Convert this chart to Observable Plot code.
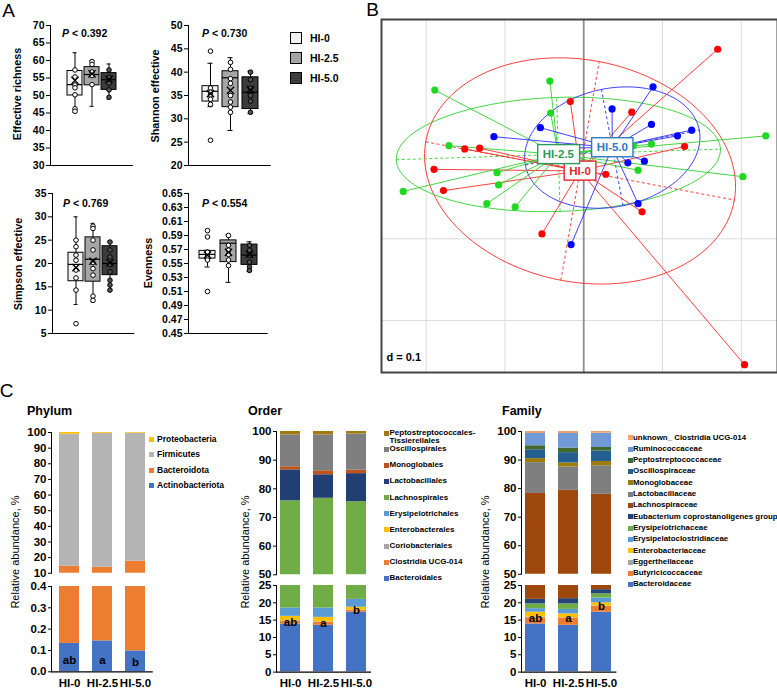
<!DOCTYPE html>
<html><head><meta charset="utf-8">
<script src="https://cdn.jsdelivr.net/npm/d3@7"></script>
<script src="https://cdn.jsdelivr.net/npm/@observablehq/plot@0.6"></script>
<style>
body{margin:0;background:#fff;}
#fig{position:relative;width:777px;height:689px;overflow:hidden;font-family:"Liberation Sans",Arial,sans-serif;color:#000;background:#fff;}
.abs{position:absolute;white-space:nowrap;}
</style></head><body><div id="fig"></div>
<script>
// ================= DATA =================
const groups = ["HI-0", "HI-2.5", "HI-5.0"];

// Panel A box plots: per group [min, q1, median, q3, max, mean]
const richnessBox = [[45.2, 50.0, 53.1, 57.0, 62.2, 54.3], [46.9, 52.9, 56.0, 58.1, 60.0, 56.2], [49.0, 51.6, 54.5, 56.4, 59.0, 54.6]];
const richnessPts = [[57.3, 55.3, 53.0, 52.2, 50.2, 46.2, 45.5], [59.7, 58.9, 56.7, 55.7, 53.1], [57.3, 55.2, 53.5, 51.6, 49.5]];
const richnessOut = [[], [], []];
const shannonBox = [[32.6, 33.7, 35.9, 37.0, 41.9, 35.4], [27.5, 32.5, 38.8, 40.2, 43.1, 36.1], [31.1, 32.1, 35.7, 38.9, 40.2, 36.2]];
const shannonPts = [[36.6, 35.7, 35.1, 34.2, 33.1], [42.1, 40.6, 38.6, 37.6, 35.0, 33.6, 32.5, 31.4], [40.0, 38.4, 36.6, 35.0, 33.8, 31.4]];
const shannonOut = [[44.5, 25.4], [], []];
const simpsonBox = [[11.2, 16.2, 19.8, 22.3, 30.0, 19.1], [11.8, 16.1, 20.9, 25.6, 28.6, 20.5], [14.1, 17.5, 20.0, 23.7, 24.8, 20.2]];
const simpsonPts = [[25.0, 23.6, 21.8, 20.7, 18.6, 16.9, 14.3], [28.0, 27.5, 25.0, 22.9, 20.2, 18.9, 17.5, 13.0, 12.1], [24.6, 22.9, 21.4, 19.8, 18.2, 16.4, 15.4, 14.3]];
const simpsonOut = [[7.1], [], []];
const evenBox = [[0.545, 0.557, 0.563, 0.568, 0.569, 0.562], [0.523, 0.552, 0.579, 0.583, 0.591, 0.566], [0.539, 0.548, 0.562, 0.577, 0.581, 0.563]];
const evenPts = [[0.566, 0.560, 0.555], [0.590, 0.576, 0.569, 0.563, 0.555, 0.547], [0.576, 0.569, 0.562, 0.552, 0.545, 0.540]];
const evenOut = [[0.597, 0.588, 0.510], [], []];
const pValues = ["0.392", "0.730", "0.769", "0.554"];
const alphaTitles = ["Effective richness", "Shannon effective", "Simpson effective", "Evenness"];

// Panel B PCoA sample coordinates
const hi0X = [0.170, -0.017, 0.061, -0.151, -0.132, -0.190, -0.178, 0.128, 0.028, 0.074, -0.053, 0.204];
const hi0Y = [0.132, 0.068, 0.055, 0.010, 0.011, -0.015, -0.041, 0.013, -0.021, -0.067, -0.094, -0.254];
const hi25X = [-0.043, -0.189, -0.042, -0.171, -0.110, -0.108, -0.229, -0.123, -0.087, 0.231, 0.202, 0.069, 0.063, 0.086];
const hi25Y = [0.093, 0.082, 0.054, 0.014, -0.019, -0.034, -0.042, -0.057, -0.061, 0.026, -0.024, -0.016, 0.014, 0.016];
const hi50X = [0.088, 0.036, -0.055, -0.114, 0.086, 0.137, 0.119, 0.056, 0.077, 0.069, -0.016, -0.048];
const hi50Y = [0.086, 0.059, 0.036, 0.025, 0.040, 0.033, 0.026, -0.007, -0.005, -0.057, -0.107, 0.011];
const gridX = [-0.2, -0.1, 0.1, 0.2];
const gridY = [-0.1, -0.2];
const gridD = "0.1";
const pcoaXDomain = [-0.2566, 0.2459];
const pcoaYDomain = [-0.2636, 0.1684];

// Panel C stacked bars (bottom -> top)
const phylumTaxa = ["Actinobacteriota", "Bacteroidota", "Firmicutes", "Proteobacteria"];
const phylumValues = [[0.133, 0.145, 0.098], [14.37, 13.66, 17.60], [84.4, 85.7, 81.9], [1.1, 0.5, 0.4]];
const phylumLetters = ["ab", "a", "b"];
const phylumLetterY = [0.055, 0.055, 0.045];

const orderTaxa = ["Bacteroidales", "Clostridia UCG-014", "Coriobacteriales", "Enterobacterales", "Erysipelotrichales", "Lachnospirales", "Lactobacillales", "Monoglobales", "Oscillospirales", "Peptostreptococcales-Tissierellales"];
const orderValues = [[13.9, 13.5, 17.3], [0.7, 0.9, 0.5], [0.2, 0.1, 0.1], [1.3, 1.3, 0.85], [2.4, 2.7, 2.25], [57.3, 58.2, 54.5], [10.8, 8.2, 9.8], [1.1, 1.4, 1.2], [11.1, 12.5, 12.6], [1.2, 1.2, 0.9]];
const orderLetters = ["ab", "a", "b"];
const orderLetterY = [14.4, 14.2, 17.9];

const familyTaxa = ["Bacteroidaceae", "Butyricicoccaceae", "Eggerthellaceae", "Enterobacteriaceae", "Erysipelatoclostridiaceae", "Erysipelotrichaceae", "Eubacterium coprostanoligenes group", "Lachnospiraceae", "Lactobacillaceae", "Monoglobaceae", "Oscillospiraceae", "Peptostreptococcaceae", "Ruminococcaceae", "unknown_ Clostridia UCG-014"];
const familyValues = [[13.9, 13.5, 17.3], [1.8, 2.1, 1.7], [0.2, 0.1, 0.1], [1.4, 1.1, 0.9], [1.0, 1.3, 1.4], [1.4, 1.6, 1.2], [1.3, 1.5, 1.2], [57.3, 58.2, 54.2], [10.8, 8.2, 10.0], [1.4, 1.4, 1.5], [3.1, 3.6, 3.7], [1.4, 1.6, 1.2], [4.3, 5.1, 5.0], [0.7, 0.7, 0.6]];
const familyLetters = ["ab", "a", "b"];
const familyLetterY = [15.6, 15.4, 19.0];

// ================= STYLES =================
const boxFill = ["#f2f2f2", "#a6a6a6", "#3c3c3c"];
const dotFill = ["#ffffff", "#ffffff", "#555555"];
const ptColor = ["#ff0000", "#1fd81f", "#0000ff"];
const lnColor = ["#ff2a2a", "#2fd02f", "#2a2aff"];
const labColor = ["#e3262d", "#2a9a5c", "#2c7cbf"];
const phylumColors = ["#4472c4", "#ed7d31", "#b4b4b4", "#ffc000"];
const orderColors = ["#4472c4", "#ed7d31", "#a5a5a5", "#ffc000", "#5b9bd5", "#70ad47", "#223f73", "#bf521a", "#7f7f7f", "#a07c10"];
const familyColors = ["#4472c4", "#ed7d31", "#a5a5a5", "#ffc000", "#5b9bd5", "#70ad47", "#264478", "#9e480e", "#7f7f7f", "#9e7c0c", "#255e91", "#43682b", "#6f9ad6", "#f4a26b"];

const fig = document.getElementById("fig");
const FONT = '"Liberation Sans", Arial, sans-serif';
const style = fs => ({fontFamily: FONT, fontSize: fs + "px", fontWeight: "bold", background: "transparent", overflow: "visible", maxWidth: "none", color: "#000"});

function place(node, left, top) {
  const d = document.createElement("div");
  d.className = "abs";
  d.style.left = left + "px"; d.style.top = top + "px";
  d.append(node); fig.append(d); return d;
}
function label(html, x, y, o = {}) {
  const d = document.createElement("div");
  d.className = "abs";
  d.innerHTML = html;
  const s = d.style;
  s.left = x + "px"; s.top = y + "px";
  s.fontSize = (o.size || 11) + "px";
  s.fontWeight = o.bold ? "bold" : "normal";
  s.lineHeight = o.lh || "1";
  if (o.ls) s.letterSpacing = o.ls;
  const ax = o.anchor === "middle" ? "-50%" : o.anchor === "end" ? "-100%" : "0";
  s.transform = o.rotate ? "translate(-50%,-50%) rotate(-90deg)" : (o.top ? "none" : `translate(${ax},-50%)`);
  if (o.color) s.color = o.color;
  fig.append(d); return d;
}
function mountPlot(opts, a, m) {
  const svg = Plot.plot({...opts,
    width: m.l + (a.x1 - a.x0) + m.r, height: m.t + (a.y1 - a.y0) + m.b,
    marginLeft: m.l, marginRight: m.r, marginTop: m.t, marginBottom: m.b});
  place(svg, a.x0 - m.l, a.y0 - m.t);
  return svg;
}

// ================= PANEL A =================
function boxChart(box, pts, outl, area, o) {
  const stats = groups.map((g, i) => ({group: g, min: box[i][0], q1: box[i][1], med: box[i][2], q3: box[i][3], max: box[i][4], mean: box[i][5]}));
  const dots = groups.flatMap((g, i) => [...pts[i], ...outl[i]].map(v => ({group: g, v})));
  const gi = g => groups.indexOf(g);
  mountPlot({
    style: style(10.5),
    x: {type: "band", domain: groups, axis: null, paddingInner: o.pi, paddingOuter: o.po},
    y: {domain: o.domain, ticks: o.ticks, tickFormat: o.fmt, tickSize: 4, tickPadding: 2, line: true, label: null},
    marks: [
      Plot.ruleY([o.domain[0]], {strokeWidth: 1.2}),
      Plot.ruleX(stats, {x: "group", y1: "min", y2: "max", strokeWidth: 1}),
      Plot.tickY(stats, {x: "group", y: "min", insetLeft: 5.5, insetRight: 5.5}),
      Plot.tickY(stats, {x: "group", y: "max", insetLeft: 5.5, insetRight: 5.5}),
      Plot.barY(stats, {x: "group", y1: "q1", y2: "q3", fill: d => boxFill[gi(d.group)], stroke: "#000", strokeWidth: 1}),
      Plot.tickY(stats, {x: "group", y: "med", stroke: "#000", strokeWidth: 1.2}),
      Plot.dot(dots, {x: "group", y: "v", r: 2.3, fill: d => dotFill[gi(d.group)], stroke: "#000", strokeWidth: 1}),
      Plot.dot(stats, {x: "group", y: "mean", symbol: "times", r: 3.4, stroke: "#000", strokeWidth: 1.3})
    ]
  }, area, {l: 40, r: 4, t: 8, b: 4});
}
const tk = (a, b, s) => d3.range(a, b + s / 2, s);
boxChart(richnessBox, richnessPts, richnessOut, {x0: 50, x1: 133, y0: 25, y1: 165},
  {domain: [30, 70], ticks: tk(30, 70, 5), fmt: d3.format("d"), pi: 0.09, po: 0.95});
boxChart(shannonBox, shannonPts, shannonOut, {x0: 188.3, x1: 271, y0: 25, y1: 165},
  {domain: [20, 50], ticks: tk(20, 50, 5), fmt: d3.format("d"), pi: 0.22, po: 0.58});
boxChart(simpsonBox, simpsonPts, simpsonOut, {x0: 51.7, x1: 134, y0: 193.3, y1: 333.3},
  {domain: [5, 35], ticks: tk(5, 35, 5), fmt: d3.format("d"), pi: 0.09, po: 0.95});
boxChart(evenBox, evenPts, evenOut, {x0: 188.3, x1: 268, y0: 193.3, y1: 333.3},
  {domain: [0.45, 0.65], ticks: tk(0.45, 0.65, 0.02), fmt: d3.format(".2f"), pi: 0.22, po: 0.5});

const pPos = [[62, 33], [202, 33], [63, 203], [202, 203]];
pValues.forEach((p, i) => label(`<i>P</i> &lt; ${p}`, pPos[i][0], pPos[i][1], {size: 10.5, bold: true}));
const yTitlePos = [[17, 94], [155, 96], [17.5, 264], [148, 263]];
alphaTitles.forEach((t, i) => label(t, yTitlePos[i][0], yTitlePos[i][1], {size: 10.8, bold: true, rotate: true}));
groups.forEach((g, i) => {
  const sq = document.createElement("div");
  sq.className = "abs";
  Object.assign(sq.style, {left: "290px", top: (32 + 20 * i) + "px", width: "12px", height: "12px", boxSizing: "border-box", border: "1px solid #000", background: boxFill[i]});
  fig.append(sq);
  label(g, 310, 38 + 20 * i, {size: 10.5, bold: true});
});

// ================= PANEL B =================
const sets = [[hi0X, hi0Y], [hi25X, hi25Y], [hi50X, hi50Y]];
const pts = sets.flatMap(([xs, ys], k) => xs.map((x, i) => ({k, x, y: ys[i]})));
const cent = sets.map(([xs, ys], k) => {
  const mx = d3.mean(xs), my = d3.mean(ys);
  const vx = d3.mean(xs, x => (x - mx) ** 2), vy = d3.mean(ys, y => (y - my) ** 2);
  const cxy = d3.mean(xs.map((x, i) => (x - mx) * (ys[i] - my)));
  const th = 0.5 * Math.atan2(2 * cxy, vx - vy);
  const tr = vx + vy, det = vx * vy - cxy * cxy, disc = Math.sqrt(Math.max(0, tr * tr / 4 - det));
  return {k, x: mx, y: my, th, a: 1.5 * Math.sqrt(tr / 2 + disc), b: 1.5 * Math.sqrt(Math.max(0, tr / 2 - disc))};
});
const ell = cent.flatMap(c => d3.range(0, 121).map(j => {
  const t = 2 * Math.PI * j / 120;
  return {k: c.k,
    x: c.x + c.a * Math.cos(t) * Math.cos(c.th) - c.b * Math.sin(t) * Math.sin(c.th),
    y: c.y + c.a * Math.cos(t) * Math.sin(c.th) + c.b * Math.sin(t) * Math.cos(c.th)};
}));
const ellAxes = cent.flatMap(c => [[c.a, 0], [0, c.b]].map(([u, v]) => {
  const dx = u * Math.cos(c.th) - v * Math.sin(c.th), dy = u * Math.sin(c.th) + v * Math.cos(c.th);
  return {k: c.k, x1: c.x - dx, y1: c.y - dy, x2: c.x + dx, y2: c.y + dy};
}));
const bSvg = mountPlot({
  style: style(11),
  x: {domain: pcoaXDomain, axis: null},
  y: {domain: pcoaYDomain, axis: null},
  marks: [
    Plot.ruleX(gridX, {stroke: "#dcdcdc", strokeWidth: 1}),
    Plot.ruleY(gridY, {stroke: "#dcdcdc", strokeWidth: 1}),
    Plot.ruleX([0], {stroke: "#8f8f8f", strokeWidth: 1.8}),
    Plot.line(ell, {x: "x", y: "y", z: "k", stroke: d => lnColor[d.k], strokeWidth: 0.9}),
    Plot.link(ellAxes, {x1: "x1", y1: "y1", x2: "x2", y2: "y2", stroke: d => lnColor[d.k], strokeWidth: 0.9, strokeDasharray: "3,2.5"}),
    Plot.link(pts, {x1: d => cent[d.k].x, y1: d => cent[d.k].y, x2: "x", y2: "y", stroke: d => lnColor[d.k], strokeWidth: 0.9}),
    Plot.dot(pts, {x: "x", y: "y", r: 3.6, fill: d => ptColor[d.k]}),
    Plot.text([gridD], {frameAnchor: "bottom-left", dx: 5, dy: -12, text: d => "d = " + d, fontSize: 11, fontWeight: "bold", textAnchor: "start"}),
    Plot.text(cent, {x: "x", y: "y", text: d => groups[d.k], fill: d => labColor[d.k], fontSize: 11.5, fontWeight: "bold"}),
    Plot.frame({stroke: "#444", strokeWidth: 2})
  ]
}, {x0: 381, x1: 777, y0: 19, y1: 372}, {l: 1, r: 1, t: 1, b: 1});
{
  const tg = bSvg.querySelectorAll('g[aria-label="text"]');
  const g = tg[tg.length - 1];
  for (const t of g.querySelectorAll("text")) {
    const bb = t.getBBox();
    const r = document.createElementNS("http://www.w3.org/2000/svg", "rect");
    r.setAttribute("x", bb.x - 5); r.setAttribute("y", bb.y - 3.5);
    r.setAttribute("width", bb.width + 10); r.setAttribute("height", bb.height + 7);
    r.setAttribute("fill", "#fff"); r.setAttribute("stroke", t.getAttribute("fill") || "#000"); r.setAttribute("stroke-width", 1.4);
    if (t.getAttribute("transform")) r.setAttribute("transform", t.getAttribute("transform"));
    t.parentNode.insertBefore(r, t);
  }
}

// ================= PANEL C =================
function stackChart(taxa, colors, values, area, o) {
  const table = taxa.flatMap((t, i) => groups.map((g, j) => ({taxon: t, group: g, value: values[i][j]})));
  const marks = [Plot.barY(table, {x: "group", y: "value", fill: "taxon", clip: true})];
  if (o.bottom) marks.push(Plot.ruleY([o.domain[0]], {strokeWidth: 1.2}));
  if (o.letters) marks.push(Plot.text(o.letters, {x: (d, i) => groups[i], y: (d, i) => o.letterY[i], text: d => d, fontSize: 11.5, fontWeight: "bold", fill: "#000"}));
  mountPlot({
    style: style(11.5),
    x: {type: "band", domain: groups, paddingInner: 0.38, paddingOuter: o.po, axis: o.bottom ? "bottom" : null, tickSize: 0, tickPadding: 7, label: null},
    y: {domain: o.domain, ticks: o.ticks, tickFormat: o.fmt, tickSize: 3, tickPadding: 2, line: true, label: null},
    color: {domain: taxa, range: colors},
    marks
  }, area, {l: 40, r: 6, t: 8, b: o.bottom ? 20 : 3});
}
function stackLegend(taxa, colors, sqX, txX, y0, dy, size, names) {
  for (let k = 0; k < taxa.length; k++) {
    const i = taxa.length - 1 - k, y = y0 + k * dy;
    const sq = document.createElement("div");
    sq.className = "abs";
    Object.assign(sq.style, {left: sqX + "px", top: (y - 2.5) + "px", width: "5px", height: "5px", background: colors[i]});
    fig.append(sq);
    label(names && names[taxa[i]] ? names[taxa[i]] : taxa[i], txX, y - size * 0.52, {size, bold: true, top: true, lh: (size + 0.2) + "px"});
  }
}
const pct = d3.format("d");
// Phylum
stackChart(phylumTaxa, phylumColors, phylumValues, {x0: 50.7, x1: 152.5, y0: 431.7, y1: 572.5},
  {domain: [10, 100], ticks: tk(10, 100, 10), fmt: pct, po: 0.23});
stackChart(phylumTaxa, phylumColors, phylumValues, {x0: 50.7, x1: 152.5, y0: 585.7, y1: 671},
  {domain: [0, 0.4], ticks: tk(0, 0.4, 0.1), fmt: d3.format(".1f"), po: 0.23, bottom: true, letters: phylumLetters, letterY: phylumLetterY});
// Order
stackChart(orderTaxa, orderColors, orderValues, {x0: 276, x1: 371, y0: 430.7, y1: 574},
  {domain: [50, 100], ticks: tk(50, 100, 10), fmt: pct, po: 0.12});
stackChart(orderTaxa, orderColors, orderValues, {x0: 276, x1: 371, y0: 584.7, y1: 671.3},
  {domain: [0, 25], ticks: tk(0, 25, 5), fmt: pct, po: 0.12, bottom: true, letters: orderLetters, letterY: orderLetterY});
// Family
stackChart(familyTaxa, familyColors, familyValues, {x0: 521, x1: 616.4, y0: 430.7, y1: 573.5},
  {domain: [50, 100], ticks: tk(50, 100, 10), fmt: pct, po: 0.12});
stackChart(familyTaxa, familyColors, familyValues, {x0: 521, x1: 616.4, y0: 584.7, y1: 671.3},
  {domain: [0, 25], ticks: tk(0, 25, 5), fmt: pct, po: 0.12, bottom: true, letters: familyLetters, letterY: familyLetterY});

stackLegend(phylumTaxa, phylumColors, 149, 157, 439, 15.6, 8.5);
stackLegend(orderTaxa, orderColors, 383.5, 389.5, 433.3, 16.1, 8, {"Peptostreptococcales-Tissierellales": "Peptostreptococcales-<br>Tissierellales"});
stackLegend(familyTaxa, familyColors, 627.5, 633, 437.7, 11.3, 7.9);

label("Phylum", 27, 411, {size: 12.5, bold: true});
label("Order", 248, 411, {size: 12.5, bold: true});
label("Family", 502, 411, {size: 12.5, bold: true});
[15, 245, 485].forEach(x => label("Relative abundance, %", x, 552, {size: 11, rotate: true}));

// Panel letters
label("A", 8.5, 9.5, {size: 19, anchor: "middle"});
label("B", 372.5, 9, {size: 19, anchor: "middle"});
label("C", 6.5, 390, {size: 19, anchor: "middle"});
</script></body></html>
